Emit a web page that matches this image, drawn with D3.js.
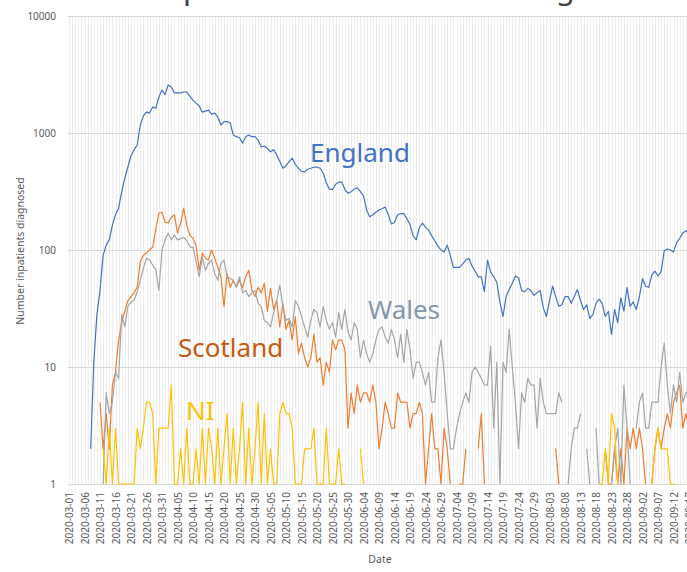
<!DOCTYPE html>
<html><head><meta charset="utf-8">
<script src="https://cdn.jsdelivr.net/npm/d3@7"></script>
<style>
body{margin:0;background:#fff;}
svg{display:block;font-family:"Noto Sans",sans-serif;}
</style>
</head><body>
<svg id="chart" width="687" height="572"></svg>
<script>
const _ = null;
// categories: daily from 2020-03-01, 201 days
const startDate = "2020-03-01";
const nDays = 201;
const tickEvery = 5;
const yTickValues = [1, 10, 100, 1000, 10000];
const titleText = "Inpatients in UK nations diagnosed with COVID-19";
const yTitle = "Number inpatients diagnosed";
const xTitle = "Date";

const england = [
  _,_,_,_,_,_,_,2,11,28,
  45,90,110,122,163,200,228,315,412,512,
  640,720,790,1170,1400,1510,1480,1670,1630,2030,
  2330,2130,2570,2470,2200,2200,2200,2240,2240,2070,
  1900,1800,1700,1510,1540,1570,1450,1480,1370,1170,
  1250,1250,1220,960,930,910,820,930,960,930,
  930,870,760,770,740,690,720,650,570,500,
  525,570,610,540,500,470,465,490,500,510,
  510,500,455,375,330,330,365,380,380,330,
  305,315,330,340,315,290,220,192,200,210,
  220,225,233,200,167,172,200,205,205,185,
  165,132,122,155,170,157,148,132,120,108,
  100,96,110,90,71,71,71,76,82,85,
  73,66,59,59,44,82,65,59,53,36,
  27,40,46,52,60,58,45,44,47,45,
  41,43,45,32,27,37,49,40,33,34,
  40,40,35,40,46,37,31,34,26,28,
  35,38,35,27,30,19,31,24,39,30,
  48,33,36,31,40,57,49,48,61,66,
  60,65,98,102,100,96,115,126,140,145,
  150
];
const scotland = [
  _,_,_,_,_,_,_,_,_,_,
  5,2,4,2,7,9,17,24,30,37,
  40,43,48,80,90,94,100,106,150,207,
  210,173,170,190,200,140,170,228,163,134,
  125,110,67,94,85,82,100,85,71,59,
  33,63,48,55,48,55,48,59,67,45,
  40,48,43,52,30,47,31,37,22,35,
  21,25,17,27,13,16,12,10,12,19,
  11,12,7,11,9,17,14,17,17,14,
  3,6,4,7,5,6,6,5,7,5,
  2,3,5,4,3,3,6,5,5,5,
  3,4,4,5,4,1,2,4,2,2,
  1,3,2,1,_,_,1,1,2,_,
  _,_,2,4,1,_,_,_,_,_,
  _,_,_,_,_,_,_,_,_,_,
  _,_,_,_,_,_,_,2,1,_,
  _,_,_,_,_,_,_,_,_,_,
  _,_,_,2,1,1,2,1,2,1,
  3,2,3,2,3,2,1,_,1,2,
  3,2,3,4,3,5,6,7,3,4,
  3
];
const wales = [
  _,_,_,_,_,_,_,_,_,_,
  _,1,6,4,5,9,8,28,22,33,
  36,37,44,55,70,85,82,74,68,45,
  100,122,140,122,134,122,125,128,120,106,
  106,80,59,87,67,77,82,63,55,77,
  82,59,57,55,48,59,43,45,40,43,
  45,35,33,25,24,22,29,37,50,33,
  25,26,22,37,33,27,22,18,25,31,
  29,22,33,25,21,24,18,29,21,31,
  20,17,24,21,12,17,13,11,13,17,
  21,22,18,16,21,17,12,19,11,21,
  14,8,11,11,9,7,9,5,5,12,
  17,9,4,2,2,3,4,5,6,5,
  9,10,9,8,7,7,15,3,11,1,
  11,9,21,10,5,2,6,5,8,7,
  7,3,8,5,4,4,4,4,6,5,
  _,1,2,3,3,4,_,2,1,_,
  3,1,_,_,_,1,2,3,1,7,
  3,1,_,3,5,6,3,3,5,5,
  5,10,16,7,4,7,5,9,5,6,
  6
];
const ni = [
  _,_,_,_,_,_,_,_,_,_,
  _,2,1,3,1,3,1,1,1,1,
  1,1,3,2,3,5,5,4,1,3,
  3,3,3,7,1,1,2,1,3,1,
  1,2,1,3,1,3,2,1,3,1,
  2,4,1,3,1,2,5,1,3,1,
  2,5,1,4,1,2,1,1,4,5,
  4,4,3,1,1,1,2,2,2,3,
  1,1,1,3,1,1,1,2,1,1,
  _,_,_,_,2,1,_,_,_,_,
  _,_,_,_,_,_,_,_,_,_,
  _,_,_,_,_,_,_,_,_,_,
  _,_,_,_,_,_,_,_,_,_,
  _,_,_,_,_,_,_,_,_,_,
  _,_,_,_,_,_,_,_,_,_,
  _,_,_,_,_,_,_,_,_,_,
  _,_,_,_,_,_,_,_,_,_,
  _,1,1,2,1,4,3,1,_,_,
  _,_,_,_,_,_,_,_,1,2,
  3,2,2,2,1,1,_,_,_,1,
  _
];

const seriesNames = ["England", "Scotland", "Wales", "NI"];
const seriesValues = [england, scotland, wales, ni];
const seriesColors = ["#4472C4", "#ED7D31", "#A5A5A5", "#FFC000"];
const labelColors = ["#4472C4", "#C55A11", "#8497B0", "#FFC000"];
const labelPos = [[310, 162], [178, 357], [368, 319], [186, 420]];

// ---------- layout ----------
const W = 687, H = 572;
const plotLeft = 68, plotTop = 16, plotBottom = 484;
const svg = d3.select("#chart");

const d0 = d3.utcParse("%Y-%m-%d")(startDate);
const dates = d3.range(nDays).map(i => d3.utcDay.offset(d0, i));
const x = d3.scaleUtc().domain([dates[0], dates[nDays - 1]]).range([69, 69 + 3.1 * (nDays - 1)]);
const y = d3.scaleLog().domain([1, 10000]).range([plotBottom, plotTop]);
const fmt = d3.utcFormat("%Y-%m-%d");

// title (mostly cut off above the view, as in the reference crop)
const title = svg.append("text").attr("y", -1.5).attr("font-size", 27).attr("fill", "#404040").text(titleText);
{
  const n = title.node();
  const pi = titleText.indexOf("p"), gi = titleText.indexOf("g");
  const d = n.getSubStringLength(0, gi) - n.getSubStringLength(0, pi);
  const fs = 27 * 373 / d;
  title.attr("font-size", fs);
  const px = n.getSubStringLength(0, pi);
  title.attr("x", 183 - px);
}

// vertical daily gridlines
svg.append("g").selectAll("line").data(dates).join("line")
  .attr("x1", d => Math.round(x(d)) + 0.5).attr("x2", d => Math.round(x(d)) + 0.5)
  .attr("y1", plotTop).attr("y2", plotBottom)
  .attr("stroke", "#EEEEEE").attr("stroke-width", 1);

// horizontal gridlines
svg.append("g").selectAll("line").data(yTickValues).join("line")
  .attr("x1", plotLeft).attr("x2", W)
  .attr("y1", d => Math.round(y(d)) + 0.5).attr("y2", d => Math.round(y(d)) + 0.5)
  .attr("stroke", "#D9D9D9").attr("stroke-width", 1);

// y axis
const yAxis = svg.append("g").attr("transform", `translate(${plotLeft},0)`)
  .call(d3.axisLeft(y).tickValues(yTickValues).tickFormat(d3.format("d")).tickSize(0).tickPadding(12));
yAxis.select(".domain").remove();
yAxis.selectAll("text").attr("fill", "#595959").attr("font-size", 10).attr("font-family", "Noto Sans");

// x axis
const tickDates = dates.filter((d, i) => i % tickEvery === 0);
const xAxis = svg.append("g").attr("transform", `translate(0,${plotBottom})`)
  .call(d3.axisBottom(x).tickValues(tickDates).tickFormat(fmt).tickSize(0));
xAxis.select(".domain").remove();
xAxis.selectAll("text")
  .attr("transform", "rotate(-90)").attr("text-anchor", "end")
  .attr("x", -8).attr("y", 0).attr("dy", "0.35em")
  .attr("fill", "#595959").attr("font-size", 10).attr("font-family", "Noto Sans");

// axis titles
svg.append("text").attr("transform", "translate(24,251) rotate(-90)")
  .attr("text-anchor", "middle").attr("font-size", 10.5).attr("fill", "#595959").text(yTitle);
svg.append("text").attr("x", 380).attr("y", 563)
  .attr("text-anchor", "middle").attr("font-size", 10.5).attr("fill", "#595959").text(xTitle);

// clip
svg.append("clipPath").attr("id", "plotclip").append("rect")
  .attr("x", plotLeft).attr("y", plotTop).attr("width", W - plotLeft).attr("height", plotBottom - plotTop + 1);

const line = d3.line()
  .defined(d => d.v != null)
  .x(d => x(d.date)).y(d => y(d.v));

const gLines = svg.append("g").attr("clip-path", "url(#plotclip)");
seriesValues.forEach((vals, k) => {
  const pts = vals.map((v, i) => ({ date: dates[i], v: v }));
  gLines.append("path").datum(pts)
    .attr("fill", "none").attr("stroke", seriesColors[k])
    .attr("stroke-width", 1.2).attr("stroke-linejoin", "round")
    .attr("d", line);
});

// series labels
seriesNames.forEach((name, k) => {
  svg.append("text").attr("x", labelPos[k][0]).attr("y", labelPos[k][1])
    .attr("font-size", 26).attr("fill", labelColors[k]).text(name);
});
</script>
</body></html>
